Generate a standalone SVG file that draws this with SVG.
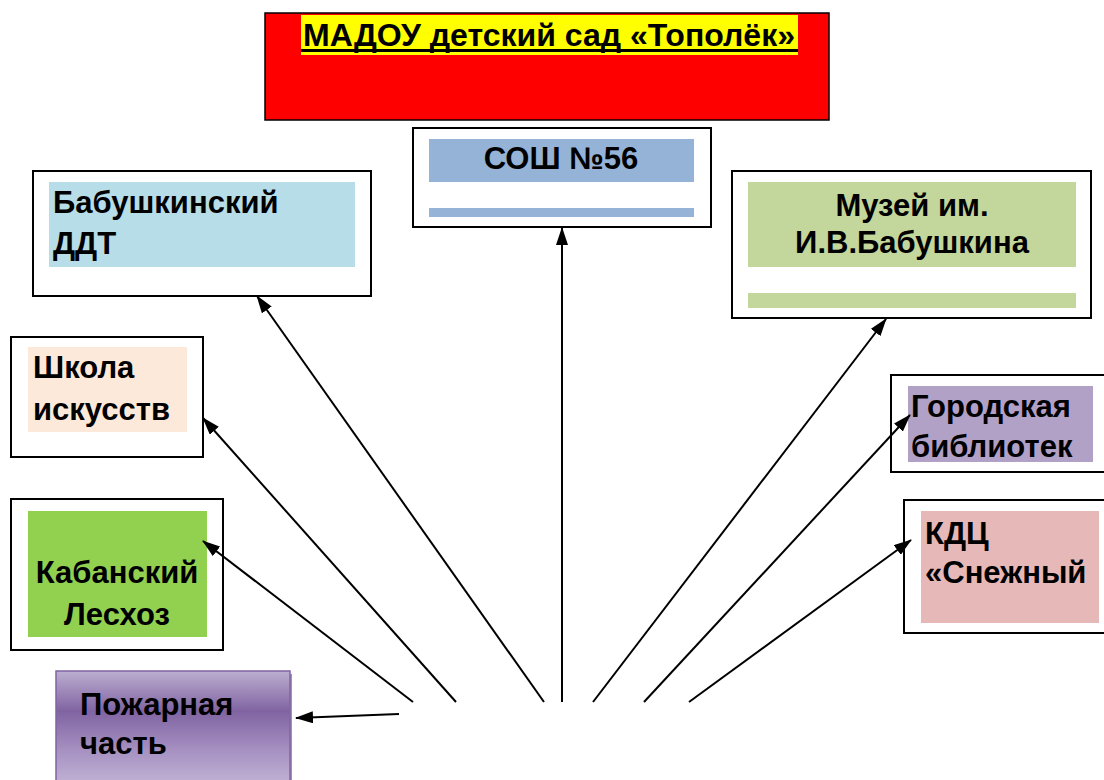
<svg xmlns="http://www.w3.org/2000/svg" width="1104" height="780" viewBox="0 0 1104 780">
<style>
.frame{fill:#ffffff;stroke:#000000;stroke-width:2}
.t{font-family:"Liberation Sans",Arial,sans-serif;font-weight:bold;font-size:31px;fill:#000000}
.c{text-anchor:middle}
.con{stroke:#000000;stroke-width:2;fill:none;marker-end:url(#arr)}
</style>
<defs>
<marker id="arr" viewBox="0 0 18 12" refX="17" refY="6" markerWidth="18" markerHeight="12" markerUnits="userSpaceOnUse" orient="auto">
<path d="M0,0 L18,6 L0,12 Z" fill="#000000"/>
</marker>
<linearGradient id="pg" x1="0" y1="0" x2="0" y2="1">
<stop offset="0" stop-color="#bcaed0"/>
<stop offset="0.35" stop-color="#8064a2"/>
<stop offset="0.7" stop-color="#a792c2"/>
<stop offset="1" stop-color="#c2b4d6"/>
</linearGradient>
</defs>
<rect width="1104" height="780" fill="#ffffff"/>

<g id="title">
<rect x="265" y="13" width="564" height="107" fill="#ff0000" stroke="#000000" stroke-width="1.5"/>
<rect x="301" y="15" width="497" height="40" fill="#ffff00"/>
<text class="t c" x="549" y="46" font-size="33" textLength="492" lengthAdjust="spacingAndGlyphs">МАДОУ детский сад «Тополёк»</text>
<rect x="301" y="49" width="497" height="3" fill="#000000"/>
</g>

<g id="sosh">
<rect class="frame" x="413" y="128" width="298" height="99"/>
<rect x="429" y="139" width="265" height="43" fill="#95b3d7"/>
<rect x="429" y="208" width="265" height="9" fill="#95b3d7"/>
<text class="t c" x="561" y="169">СОШ №56</text>
</g>

<g id="ddt">
<rect class="frame" x="33" y="171" width="338" height="125"/>
<rect x="49" y="182" width="306" height="85" fill="#b7dde8"/>
<text class="t" x="53" y="213">Бабушкинский</text>
<text class="t" x="53" y="254">ДДТ</text>
</g>

<g id="museum">
<rect class="frame" x="732" y="171" width="359" height="147"/>
<rect x="748" y="182" width="328" height="85" fill="#c3d69b"/>
<rect x="748" y="293" width="328" height="15" fill="#c3d69b"/>
<text class="t c" x="912" y="216">Музей им.</text>
<text class="t c" x="912" y="253">И.В.Бабушкина</text>
</g>

<g id="school">
<rect class="frame" x="11" y="337" width="192" height="120"/>
<rect x="28" y="347" width="159" height="85" fill="#fde9d9"/>
<text class="t" x="33" y="378">Школа</text>
<text class="t" x="33" y="420">искусств</text>
</g>

<g id="forest">
<rect class="frame" x="11" y="499" width="212" height="151"/>
<rect x="28" y="511" width="179" height="126" fill="#92d050"/>
<text class="t c" x="117" y="583">Кабанский</text>
<text class="t c" x="117" y="625">Лесхоз</text>
</g>

<g id="library">
<rect class="frame" x="891" y="375" width="220" height="97"/>
<rect x="908" y="386" width="185" height="76" fill="#b2a1c7"/>
<text class="t" x="911" y="417">Городская</text>
<text class="t" x="911" y="457">библиотек</text>
</g>

<g id="kdc">
<rect class="frame" x="904" y="500" width="210" height="133"/>
<rect x="921" y="511" width="178" height="112" fill="#e6b9b8"/>
<text class="t" x="925" y="544">КДЦ</text>
<text class="t" x="925" y="583">«Снежный</text>
</g>

<g id="fire">
<rect x="287" y="674" width="5" height="110" fill="#5f4a7a" opacity="0.6"/>
<rect x="56" y="671" width="234" height="115" fill="url(#pg)" stroke="#8064a2" stroke-width="1.5"/>
<text class="t" x="80" y="715">Пожарная</text>
<text class="t" x="80" y="754">часть</text>
</g>

<g id="connectors">
<line class="con" x1="399" y1="714" x2="296" y2="718"/>
<line class="con" x1="413" y1="702" x2="203" y2="541"/>
<line class="con" x1="456" y1="702" x2="203" y2="418"/>
<line class="con" x1="544" y1="702" x2="257" y2="296"/>
<line class="con" x1="562" y1="702" x2="562" y2="228"/>
<line class="con" x1="593" y1="702" x2="886" y2="319"/>
<line class="con" x1="644" y1="702" x2="910" y2="415"/>
<line class="con" x1="689" y1="702" x2="911" y2="540"/>
</g>
</svg>
